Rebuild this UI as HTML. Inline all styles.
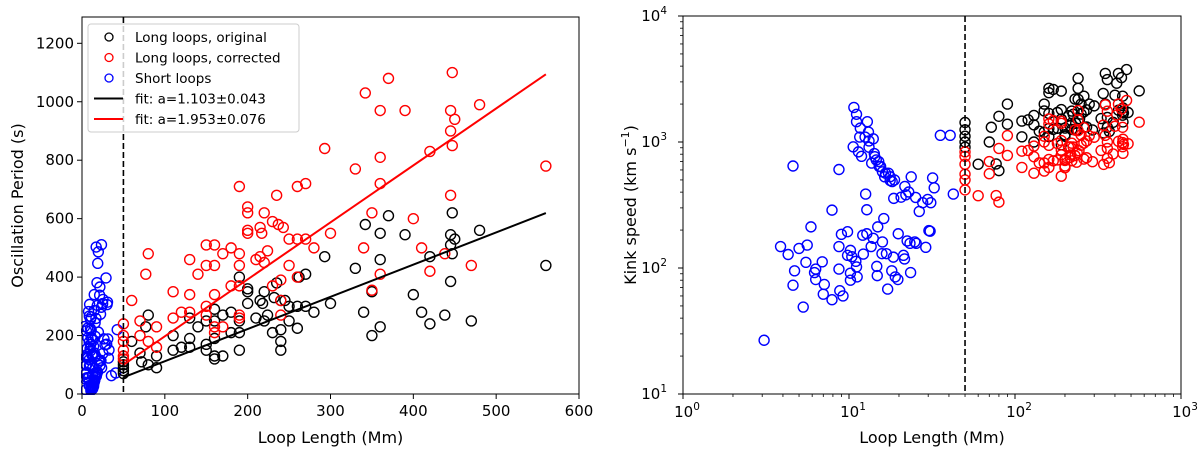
<!DOCTYPE html>
<html><head><meta charset="utf-8"><style>
html,body{margin:0;padding:0;background:#fff;}
svg{display:block;font-family:"DejaVu Sans","Liberation Sans",sans-serif;}
</style></head><body>
<svg id="chart" width="1200" height="454" viewBox="0 0 1200 454" xmlns="http://www.w3.org/2000/svg">
<g id="left"></g>
<g id="right"></g>
</svg>
<script>
// Long loops original: length (Mm), period (s)
const blackL=[50,50,50,50,50,60,70,72,77,80,80,90,90,110,110,120,130,130,130,140,150,150,150,160,160,160,160,160,170,170,180,180,190,190,190,190,200,200,200,210,215,218,220,220,224,230,232,235,240,240,240,240,245,250,250,260,260,262,270,270,280,293,300,330,340,342,350,350,360,360,360,370,390,400,410,420,420,438,445,445,445,447,447,450,470,480,560];
const blackP=[70,80,90,100,110,180,140,110,230,270,100,130,90,200,150,160,190,160,260,230,170,150,250,290,250,190,130,120,130,270,280,210,400,250,210,150,360,350,310,260,320,310,350,250,270,210,330,380,320,220,180,150,320,300,250,300,225,400,410,300,280,470,310,430,280,580,200,350,550,460,230,610,545,340,280,470,240,270,545,510,385,620,480,530,250,560,440];
// Long loops corrected
const redL=[50,50,50,50,50,50,60,70,70,77,80,80,90,90,110,110,120,130,130,130,140,150,150,150,150,160,160,160,160,160,170,170,180,180,190,190,190,190,190,190,200,200,200,200,210,215,215,217,220,220,224,230,230,235,237,240,240,240,243,250,250,260,260,260,270,270,280,293,300,330,340,342,350,350,360,360,360,360,370,390,400,410,420,420,438,445,445,445,447,447,450,470,480,560];
const redP=[240,200,180,150,130,120,320,250,200,410,480,180,230,160,350,260,280,460,340,280,410,510,440,300,270,510,440,340,230,210,480,230,500,370,710,480,440,370,270,260,640,620,560,550,460,570,470,550,620,450,490,590,370,680,580,390,320,270,570,530,440,710,530,400,720,530,500,840,550,770,500,1030,620,355,970,810,720,410,1080,970,600,500,830,420,480,970,900,680,1100,850,940,440,990,780];
// Short loops: length (Mm), kink speed (km/s)
const blueL=[3.08,3.87,4.3,4.6,4.6,4.7,5.0,5.3,5.5,5.6,5.9,6.2,6.3,6.3,6.9,7.0,7.1,7.9,7.9,8.7,8.7,8.7,8.8,9.0,9.2,9.8,9.8,10.2,10.2,10.2,10.4,10.7,10.6,11,11.1,11.2,11.1,11.1,11.4,11.6,11.7,11.9,12.1,12.2,12.6,12.8,12.8,12.9,13.1,13.2,13.6,13.7,14.0,14.0,14.3,14.7,14.8,14.9,15.1,15.5,15.8,15.9,16.2,16.4,16.8,17.1,17.3,17.7,18.1,18.5,18.6,18.8,19.0,19.7,19.8,20.6,21.3,21.6,21.7,22.0,22.4,22.9,23.3,23.5,23.7,24.9,25.2,25.4,26.5,27.8,29.0,29.8,30.3,30.8,31.1,31.9,32.6,35.5,40.7,42.5,12.5,13.2,14.2,14.6,15.2,15.9,16.6,17.7,18.2];
const blueV=[26.7,148,128,645,73,95,143,49,111,152,212,92,98,81,112,62,74,56,288,605,98,148,66,185,60,194,126,80,91,138,123,1880,915,113,102,85,1660,1450,835,1095,1290,770,182,129,386,290,187,1450,1200,910,148,680,1060,172,765,103,87,212,700,640,130,161,247,529,130,68,565,495,95,122,357,500,85,81,187,365,126,118,444,381,164,401,157,92,529,161,363,157,281,330,146,350,198,196,330,519,433,1130,1130,386,1095,1020,810,720,640,580,565,530,485];
// Fits
const fitL=[50,560];
const fitBlackP=[57,619];
const fitRedP=[100,1094];
const leftXTicks=[0,100,200,300,400,500,600];
const leftYTicks=[0,200,400,600,800,1000,1200];
const logTicks=[0,1,2,3];
const logYTicks=[1,2,3,4];

const NS='http://www.w3.org/2000/svg';
function mk(parent,tag,attrs){const e=document.createElementNS(NS,tag);for(const k in attrs)e.setAttribute(k,attrs[k]);parent.appendChild(e);return e;}
const L=document.getElementById('left'), R=document.getElementById('right');

// Left axes
const lx0=82,lx1=579,ly0=394,ly1=17;
const lxs=v=>lx0+(v-0)/600*(lx1-lx0);
const lys=v=>ly0-(v/1290)*(ly0-ly1);
// Right axes
const rx0=683,rx1=1181,ry0=394,ry1=16;
const rxs=v=>rx0+(Math.log10(v)-0)/3*(rx1-rx0);
const rys=v=>ry0-(Math.log10(v)-1)/3*(ry0-ry1);

function circle(g,x,y,col,name){
  const c=mk(g,'circle',{cx:x,cy:y,r:5,fill:'none',stroke:col,'stroke-width':1.4});
  
  
}

// ---- Left panel ----
const lpts=mk(L,'g',{});


blueL.forEach((l,i)=>{const p=2000*l/blueV[i];circle(lpts,lxs(l),lys(p),'#0000ff','short-loop-point');});
blackL.forEach((l,i)=>circle(lpts,lxs(l),lys(blackP[i]),'#000','long-original-point'));
redL.forEach((l,i)=>circle(lpts,lxs(l),lys(redP[i]),'#ff0000','long-corrected-point'));
const fb=mk(L,'line',{x1:lxs(fitL[0]),y1:lys(fitBlackP[0]),x2:lxs(fitL[1]),y2:lys(fitBlackP[1]),stroke:'#000','stroke-width':2});


const fr=mk(L,'line',{x1:lxs(fitL[0]),y1:lys(fitRedP[0]),x2:lxs(fitL[1]),y2:lys(fitRedP[1]),stroke:'#ff0000','stroke-width':2});


const vl=mk(L,'line',{x1:lxs(50),y1:ly1,x2:lxs(50),y2:ly0,stroke:'#000','stroke-width':1.6,'stroke-dasharray':'6,3'});


// mask outside
mk(L,'rect',{x:0,y:0,width:lx0-1,height:454,fill:'#fff'});
mk(L,'rect',{x:0,y:ly0+1,width:600,height:60,fill:'#fff'});
const lf=mk(L,'rect',{x:lx0,y:ly1,width:lx1-lx0,height:ly0-ly1,fill:'none',stroke:'#000','stroke-width':1});


leftXTicks.forEach(t=>{const x=lxs(t);mk(L,'line',{x1:x,y1:ly0,x2:x,y2:ly0+5,stroke:'#000'});
  const tx=mk(L,'text',{x:x,y:ly0+22,'font-size':15,'text-anchor':'middle'});tx.textContent=t;
  });
leftYTicks.forEach(t=>{const y=lys(t);mk(L,'line',{x1:lx0-5,y1:y,x2:lx0,y2:y,stroke:'#000'});
  const tx=mk(L,'text',{x:lx0-8,y:y+5,'font-size':15,'text-anchor':'end'});tx.textContent=t;
  });
let t=mk(L,'text',{x:(lx0+lx1)/2,y:443,'font-size':16,'text-anchor':'middle'});t.textContent='Loop Length (Mm)';

t=mk(L,'text',{x:0,y:0,'font-size':16,'text-anchor':'middle',transform:'translate(23,'+((ly0+ly1)/2)+') rotate(-90)'});t.textContent='Oscillation Period (s)';

// legend
const lg=mk(L,'g',{});


mk(lg,'rect',{x:88,y:24,width:211,height:108,rx:3,fill:'#fff','fill-opacity':0.8,stroke:'#ccc','stroke-width':1});
const legTexts=['Long loops, original','Long loops,  corrected','Short loops','fit: a=1.103\u00b10.043','fit: a=1.953\u00b10.076'];
const legCols=['#000','#ff0000','#0000ff','#000','#ff0000'];
const legY=[37,57.5,78,98.5,119];
legTexts.forEach((s,i)=>{
  if(i<3){const c=mk(lg,'circle',{cx:109,cy:legY[i],r:4,fill:'none',stroke:legCols[i],'stroke-width':1.3});}
  else mk(lg,'line',{x1:94,y1:legY[i],x2:123,y2:legY[i],stroke:legCols[i],'stroke-width':2});
  const tx=mk(lg,'text',{x:135,y:legY[i]+5,'font-size':13.5,'xml:space':'preserve'});tx.textContent=s;
  
});

// ---- Right panel ----
const rpts=mk(R,'g',{});


blueL.forEach((l,i)=>circle(rpts,rxs(l),rys(blueV[i]),'#0000ff','short-loop-speed-point'));
blackL.forEach((l,i)=>circle(rpts,rxs(l),rys(2000*l/blackP[i]),'#000','long-original-speed-point'));
redL.forEach((l,i)=>circle(rpts,rxs(l),rys(2000*l/redP[i]),'#ff0000','long-corrected-speed-point'));
const vr=mk(R,'line',{x1:rxs(50),y1:ry1,x2:rxs(50),y2:ry0,stroke:'#000','stroke-width':1.6,'stroke-dasharray':'6,3'});


const rf=mk(R,'rect',{x:rx0,y:ry1,width:rx1-rx0,height:ry0-ry1,fill:'none',stroke:'#000','stroke-width':1});


function sup(g,x,y,anchor,exp,name){
  const tx=mk(g,'text',{x:x,y:y,'font-size':15,'text-anchor':anchor});
  
  tx.appendChild(document.createTextNode('10'));
  const ts=mk(tx,'tspan',{'font-size':10.5,dy:-7});ts.textContent=exp;
}
logTicks.forEach(k=>{const x=rx0+k/3*(rx1-rx0);mk(R,'line',{x1:x,y1:ry0,x2:x,y2:ry0+5,stroke:'#000'});
  sup(R,x+4,ry0+23,'middle',k,'x-tick-label');
  if(k<3)for(let m=2;m<10;m++){const xm=rxs(m*Math.pow(10,k));mk(R,'line',{x1:xm,y1:ry0,x2:xm,y2:ry0+3,stroke:'#000','stroke-width':0.8});}});
logYTicks.forEach(k=>{const y=rys(Math.pow(10,k));mk(R,'line',{x1:rx0-5,y1:y,x2:rx0,y2:y,stroke:'#000'});
  sup(R,rx0-16,y+5,'end',k,'y-tick-label');
  if(k<4)for(let m=2;m<10;m++){const ym=rys(m*Math.pow(10,k));mk(R,'line',{x1:rx0-3,y1:ym,x2:rx0,y2:ym,stroke:'#000','stroke-width':0.8});}});
t=mk(R,'text',{x:(rx0+rx1)/2,y:443,'font-size':16,'text-anchor':'middle'});t.textContent='Loop Length (Mm)';

t=mk(R,'text',{x:0,y:0,'font-size':16,'text-anchor':'middle',transform:'translate(636,'+((ry0+ry1)/2)+') rotate(-90)'});

t.appendChild(document.createTextNode('Kink speed (km s'));
let ts=mk(t,'tspan',{'font-size':11,dy:-7});ts.textContent='\u22121';
ts=mk(t,'tspan',{dy:7});ts.textContent=')';
</script>
</body></html>
